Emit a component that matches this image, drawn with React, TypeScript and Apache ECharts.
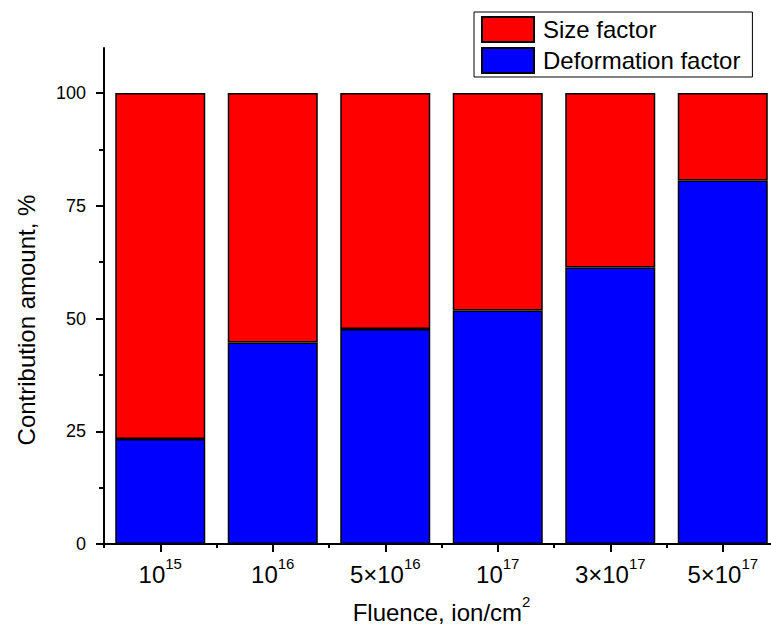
import React, { useEffect, useRef } from "react";
import * as echarts from "echarts";

const categories = ["10^15", "10^16", "5×10^16", "10^17", "3×10^17", "5×10^17"];
const deformationFactor = [23.3, 44.7, 47.7, 51.8, 61.3, 80.6];
const sizeFactor = [76.7, 55.3, 52.3, 48.2, 38.7, 19.4];
const yMajorTicks = [0, 25, 50, 75, 100];
const yMinorTicks = [12.5, 37.5, 62.5, 87.5];

const FONT = "Arial, 'Liberation Sans', sans-serif";

function fmtCat(v: string) {
  const [base, exp] = v.split("^");
  return `{b|${base}}{s|${exp}}`;
}

const richSup = {
  b: { fontSize: 24, color: "#000", fontFamily: FONT, lineHeight: 30, verticalAlign: "bottom" },
  s: { fontSize: 15, color: "#000", fontFamily: FONT, lineHeight: 30, verticalAlign: "top" },
};

export default function App() {
  const ref = useRef<HTMLDivElement>(null);
  useEffect(() => {
    if (!ref.current) return;
    const chart = echarts.init(ref.current, null, { renderer: "svg" });
    chart.setOption({
      animation: false,
      textStyle: { fontFamily: FONT, color: "#000" },
      grid: {
        left: 104,
        top: 48,
        bottom: 87,
        right: -8,
        outerBoundsMode: "none",
        containLabel: false,
      },
      legend: {
        orient: "vertical",
        left: 474,
        top: 12,
        data: ["Size factor", "Deformation factor"],
        icon: "rect",
        itemWidth: 52,
        itemHeight: 25,
        itemGap: 4,
        padding: [4, 12, 3, 7],
        borderColor: "#000",
        borderWidth: 1,
        borderRadius: 0,
        backgroundColor: "#fff",
        textStyle: { fontSize: 24, lineHeight: 26, color: "#000", fontFamily: FONT, padding: [0, 0, 0, 4] },
        selectedMode: false,
      },
      xAxis: [
        {
          type: "category",
          data: categories,
          position: "bottom",
          axisLine: { show: true, lineStyle: { color: "#000", width: 2 } },
          axisTick: { show: true, alignWithLabel: true, length: 8, lineStyle: { color: "#000", width: 2 } },
          axisLabel: {
            margin: 12,
            formatter: fmtCat,
            rich: richSup,
          },
          name: "{b|Fluence, ion/cm}{s|2}",
          nameLocation: "middle",
          nameGap: 50,
          nameTextStyle: { rich: richSup },
          splitLine: { show: false },
        },
        {
          type: "category",
          data: categories,
          position: "bottom",
          axisLine: { show: false },
          axisTick: { show: true, alignWithLabel: false, length: 4, lineStyle: { color: "#000", width: 2 } },
          axisLabel: { show: false },
          splitLine: { show: false },
        },
      ],
      yAxis: [
        {
          type: "value",
          min: 0,
          max: 110,
          interval: 25,
          position: "left",
          axisLine: { show: true, lineStyle: { color: "#000", width: 2 } },
          axisTick: { show: true, length: 8, customValues: yMajorTicks, lineStyle: { color: "#000", width: 2 } },
          axisLabel: { margin: 18, fontSize: 18, color: "#000", fontFamily: FONT, customValues: yMajorTicks },
          splitLine: { show: false },
          name: "Contribution amount, %",
          nameLocation: "middle",
          nameGap: 66,
          nameTextStyle: { fontSize: 24, color: "#000", fontFamily: FONT, padding: [0, 48, 0, 0] },
        },
        {
          type: "value",
          min: 0,
          max: 110,
          interval: 25,
          position: "left",
          axisLine: { show: false },
          axisTick: { show: true, length: 5, customValues: yMinorTicks, lineStyle: { color: "#000", width: 2 } },
          axisLabel: { show: false },
          splitLine: { show: false },
        },
      ],
      series: [
        {
          name: "Deformation factor",
          type: "bar",
          stack: "total",
          data: deformationFactor,
          barWidth: "80%",
          itemStyle: { color: "#0000ff", borderColor: "#000", borderWidth: 1.5 },
        },
        {
          name: "Size factor",
          type: "bar",
          stack: "total",
          data: sizeFactor,
          barWidth: "80%",
          itemStyle: { color: "#ff0000", borderColor: "#000", borderWidth: 1.5 },
        },
      ],
    });
    return () => chart.dispose();
  }, []);
  return <div ref={ref} style={{ width: 771, height: 631, position: "absolute", left: 0, top: 0 }} />;
}
